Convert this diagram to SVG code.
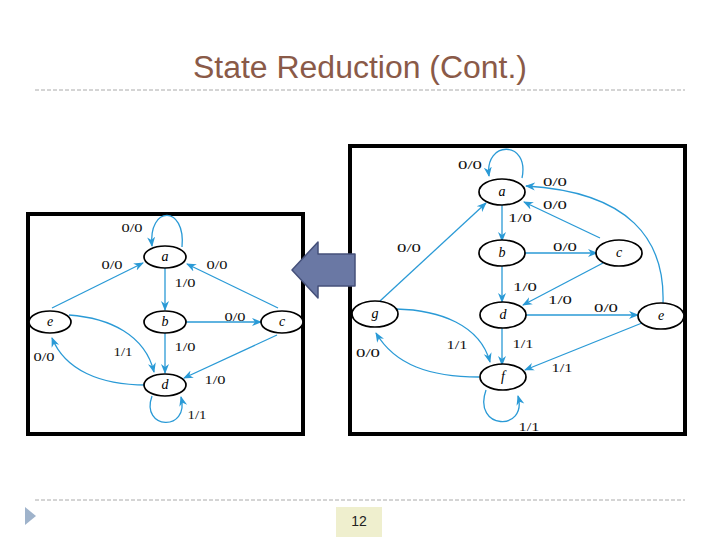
<svg xmlns="http://www.w3.org/2000/svg" width="720" height="540" viewBox="0 0 720 540">
<style>
.edge{fill:none;stroke:#2a9ad6;stroke-width:1.3}
.node{fill:#fff;stroke:#000;stroke-width:1.7}
.nl{font-family:"Liberation Serif",serif;font-style:italic;font-size:14px;text-anchor:middle}
.lb{font-family:"Liberation Serif",serif;font-size:12px;text-anchor:middle;fill:#111}
.frame{fill:#fff;stroke:#000;stroke-width:4}
.dash{stroke:#aaaaaa;stroke-width:1;stroke-dasharray:4,2}
</style>
<defs>
<marker id="ah" viewBox="0 0 10 10" refX="9" refY="5" markerWidth="10" markerHeight="10" markerUnits="userSpaceOnUse" orient="auto">
<path d="M0,1 L10,5 L0,9 L3,5 Z" fill="#2a9ad6"/>
</marker>
</defs>
<rect width="720" height="540" fill="#fff"/>
<text x="360" y="78" font-family="Liberation Sans,Arial,sans-serif" font-size="31" fill="#8a5a48" text-anchor="middle" textLength="334" lengthAdjust="spacingAndGlyphs">State Reduction (Cont.)</text>
<line class="dash" x1="35" y1="90" x2="685" y2="90"/>
<line class="dash" x1="35" y1="500" x2="685" y2="500"/>
<path d="M25,507 L36,516 L25,525 Z" fill="#9fb3cb"/>
<rect x="336" y="507" width="46" height="30" fill="#efefce"/>
<text x="359" y="526" font-family="Liberation Sans,Arial,sans-serif" font-size="14" fill="#222" text-anchor="middle">12</text>

<!-- Left diagram -->
<rect class="frame" x="28" y="214" width="275" height="220"/>
<g id="left-edges">
<path class="edge" d="M182,247 C186,205 148,205 152,246" marker-end="url(#ah)"/>
<path class="edge" d="M52,308 L143,263" marker-end="url(#ah)"/>
<path class="edge" d="M278,308 L187,264" marker-end="url(#ah)"/>
<path class="edge" d="M165,268 L165,310" marker-end="url(#ah)"/>
<path class="edge" d="M185,322 L261,322" marker-end="url(#ah)"/>
<path class="edge" d="M165,333 L165,373" marker-end="url(#ah)"/>
<path class="edge" d="M277,335 L184,378" marker-end="url(#ah)"/>
<path class="edge" d="M69,315 C110,318 145,335 154,372" marker-end="url(#ah)"/>
<path class="edge" d="M146,385 C100,385 65,370 52,338" marker-end="url(#ah)"/>
<path class="edge" d="M152,396 C140,430 190,432 181,397" marker-end="url(#ah)"/>
</g>
<g id="left-a"><ellipse class="node" cx="165" cy="257" rx="21" ry="11"/><text class="nl" x="165" y="261">a</text></g>
<g id="left-b"><ellipse class="node" cx="165" cy="322" rx="21" ry="11"/><text class="nl" x="165" y="326">b</text></g>
<g id="left-c"><ellipse class="node" cx="282" cy="322" rx="21" ry="11"/><text class="nl" x="282" y="326">c</text></g>
<g id="left-e"><ellipse class="node" cx="50" cy="322" rx="21" ry="11"/><text class="nl" x="50" y="326">e</text></g>
<g id="left-d"><ellipse class="node" cx="165" cy="385" rx="21" ry="11"/><text class="nl" x="165" y="389">d</text></g>
<g id="left-labels">
<text class="lb" x="132" y="232" textLength="21" lengthAdjust="spacingAndGlyphs">0/0</text>
<text class="lb" x="112" y="269" textLength="21" lengthAdjust="spacingAndGlyphs">0/0</text>
<text class="lb" x="217" y="269" textLength="21" lengthAdjust="spacingAndGlyphs">0/0</text>
<text class="lb" x="185" y="287" textLength="21" lengthAdjust="spacingAndGlyphs">1/0</text>
<text class="lb" x="235" y="321" textLength="21" lengthAdjust="spacingAndGlyphs">0/0</text>
<text class="lb" x="185" y="351" textLength="21" lengthAdjust="spacingAndGlyphs">1/0</text>
<text class="lb" x="123" y="356" textLength="19" lengthAdjust="spacingAndGlyphs">1/1</text>
<text class="lb" x="44" y="361" textLength="21" lengthAdjust="spacingAndGlyphs">0/0</text>
<text class="lb" x="215" y="384" textLength="21" lengthAdjust="spacingAndGlyphs">1/0</text>
<text class="lb" x="197" y="419" textLength="19" lengthAdjust="spacingAndGlyphs">1/1</text>
</g>

<!-- Right diagram -->
<rect class="frame" x="350" y="146" width="335" height="288"/>
<g id="right-edges">
<path class="edge" d="M522,178 C530,140 484,140 489,176" marker-end="url(#ah)"/>
<path class="edge" d="M663,303 C665,240 630,192 526,186" marker-end="url(#ah)"/>
<path class="edge" d="M600,238 L524,202" marker-end="url(#ah)"/>
<path class="edge" d="M502,205 L502,241" marker-end="url(#ah)"/>
<path class="edge" d="M380,301 L486,203" marker-end="url(#ah)"/>
<path class="edge" d="M524,253 L597,253" marker-end="url(#ah)"/>
<path class="edge" d="M502,266 L502,302" marker-end="url(#ah)"/>
<path class="edge" d="M603,263 L523,305" marker-end="url(#ah)"/>
<path class="edge" d="M525,315 L638,315" marker-end="url(#ah)"/>
<path class="edge" d="M396,309 C440,310 480,325 490,362" marker-end="url(#ah)"/>
<path class="edge" d="M502,328 L502,365" marker-end="url(#ah)"/>
<path class="edge" d="M642,323 L525,370" marker-end="url(#ah)"/>
<path class="edge" d="M479,377 C430,377 395,365 376,333" marker-end="url(#ah)"/>
<path class="edge" d="M486,390 C472,430 528,432 518,396" marker-end="url(#ah)"/>
</g>
<g id="right-a"><ellipse class="node" cx="502" cy="192" rx="23" ry="13"/><text class="nl" x="502" y="196">a</text></g>
<g id="right-b"><ellipse class="node" cx="502" cy="253" rx="23" ry="13"/><text class="nl" x="502" y="257">b</text></g>
<g id="right-c"><ellipse class="node" cx="619" cy="253" rx="23" ry="13"/><text class="nl" x="619" y="257">c</text></g>
<g id="right-d"><ellipse class="node" cx="503" cy="315" rx="23" ry="13"/><text class="nl" x="503" y="319">d</text></g>
<g id="right-e"><ellipse class="node" cx="661" cy="316" rx="23" ry="13"/><text class="nl" x="661" y="320">e</text></g>
<g id="right-g"><ellipse class="node" cx="375" cy="314" rx="23" ry="13"/><text class="nl" x="375" y="318">g</text></g>
<g id="right-f"><ellipse class="node" cx="503" cy="377" rx="23" ry="13"/><text class="nl" x="503" y="381">f</text></g>
<g id="right-labels">
<text class="lb" x="470" y="169" textLength="24" lengthAdjust="spacingAndGlyphs">0/0</text>
<text class="lb" x="555" y="186" textLength="24" lengthAdjust="spacingAndGlyphs">0/0</text>
<text class="lb" x="555" y="209" textLength="24" lengthAdjust="spacingAndGlyphs">0/0</text>
<text class="lb" x="520" y="222" textLength="24" lengthAdjust="spacingAndGlyphs">1/0</text>
<text class="lb" x="409" y="252" textLength="24" lengthAdjust="spacingAndGlyphs">0/0</text>
<text class="lb" x="565" y="251" textLength="24" lengthAdjust="spacingAndGlyphs">0/0</text>
<text class="lb" x="525" y="291" textLength="24" lengthAdjust="spacingAndGlyphs">1/0</text>
<text class="lb" x="560" y="304" textLength="24" lengthAdjust="spacingAndGlyphs">1/0</text>
<text class="lb" x="606" y="312" textLength="24" lengthAdjust="spacingAndGlyphs">0/0</text>
<text class="lb" x="457" y="349" textLength="21" lengthAdjust="spacingAndGlyphs">1/1</text>
<text class="lb" x="523" y="348" textLength="21" lengthAdjust="spacingAndGlyphs">1/1</text>
<text class="lb" x="368" y="357" textLength="24" lengthAdjust="spacingAndGlyphs">0/0</text>
<text class="lb" x="562" y="372" textLength="21" lengthAdjust="spacingAndGlyphs">1/1</text>
<text class="lb" x="529" y="431" textLength="21" lengthAdjust="spacingAndGlyphs">1/1</text>
</g>

<!-- Big arrow -->
<g id="big-arrow">
<path d="M292,270 L318,242 L318,254 L355,254 L355,286 L318,286 L318,298 Z" fill="#6a78a4" stroke="#45507a" stroke-width="1.5" stroke-linejoin="round"/>
</g>
</svg>
